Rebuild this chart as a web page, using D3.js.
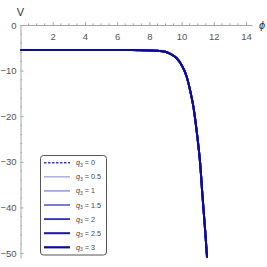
<!DOCTYPE html>
<html>
  <head>
    <meta charset="utf-8">
    <title>V vs phi</title>
    <style>
    body { margin: 0; background: #fff; }
    .axis path, .axis line { stroke: #a6a6a6; }
    .axis text { fill: #555; font-family: "Liberation Sans", Arial, sans-serif; font-size: 9.5px; }
    .lbl { fill: #333; font-family: "Liberation Sans", Arial, sans-serif; }
    .leg text { fill: #444; font-family: "Liberation Sans", Arial, sans-serif; font-size: 7.2px; }
    </style>
  </head>
  <body>
    <svg width="267" height="267"></svg>
    <script src="https://d3js.org/d3.v7.min.js"></script>
    <script>

      // curve shared by every q3 value (they all overlap)
      var phi = [0, 2, 4, 6, 7.5, 8.5, 9, 9.3, 9.7, 10.0, 10.3, 10.55, 10.73, 10.87, 10.98, 11.15, 11.3, 11.46, 11.58];
      var V   = [-5.5, -5.5, -5.5, -5.5, -5.52, -5.62, -5.85, -6.35, -7.3, -8.8, -11.2, -14.7, -17.9, -21.4, -24.6, -30.3, -37.7, -45, -51];

      var qLabels = ["0", "0.5", "1", "1.5", "2", "2.5", "3"];
      var qColors = ["#3a3ad0", "#a8a8ec", "#9a9ae4", "#6a6ad2", "#3535b8", "#1a1aa4", "#0a0a9c"];

      var xTicks = [2, 4, 6, 8, 10, 12, 14];
      var yTicks = [0, -10, -20, -30, -40, -50];

      var svg = d3.select("svg");

      var x = d3.scaleLinear().domain([0, 14.4]).range([20.5, 252.5]),
          y = d3.scaleLinear().domain([0, -50]).range([25, 253]);

      var xMinor = d3.range(0.5, 14.4, 0.5).filter(function(d) { return d % 2 !== 0; });
      var yMinor = d3.range(-2, -51.5, -2).filter(function(d) { return d % 10 !== 0; });

      // minor ticks
      svg.append("g").attr("class", "axis")
        .selectAll("line").data(xMinor).enter().append("line")
          .attr("x1", function(d) { return x(d); }).attr("x2", function(d) { return x(d); })
          .attr("y1", y(0)).attr("y2", y(0) - 1.6);
      svg.append("g").attr("class", "axis")
        .selectAll("line").data(yMinor).enter().append("line")
          .attr("y1", function(d) { return y(d); }).attr("y2", function(d) { return y(d); })
          .attr("x1", x(0)).attr("x2", x(0) + 1.6);

      svg.append("g")
          .attr("class", "axis")
          .attr("transform", "translate(0," + y(0) + ")")
          .call(d3.axisTop(x).tickValues(xTicks).tickSize(3).tickSizeOuter(0))
          .call(function(g) {
            g.selectAll("text").attr("y", 8).attr("dy", "0.71em");
            g.select(".domain").attr("d", "M" + x(0) + ",0.5H" + x(14.4));
          });

      svg.append("g")
          .attr("class", "axis")
          .attr("transform", "translate(" + x(0) + ",0)")
          .call(d3.axisRight(y).tickValues(yTicks).tickSize(3).tickSizeOuter(0)
            .tickFormat(function(d) { return d === 0 ? "0" : "\u2212" + Math.abs(d); }))
          .call(function(g) {
            g.selectAll("text").attr("x", -4).attr("text-anchor", "end");
            g.select(".domain").attr("d", "M0.5," + y(0) + "V" + y(-51.2));
          });

      svg.append("text").attr("class", "lbl")
          .attr("x", x(0)).attr("y", 16).attr("text-anchor", "middle")
          .attr("font-size", 11).text("V");
      svg.append("text").attr("class", "lbl")
          .attr("x", 262).attr("y", 29).attr("text-anchor", "middle")
          .attr("font-size", 11).attr("font-style", "italic").text("\u03d5");

      var pts = phi.map(function(p, i) { return [p, V[i]]; });
      var line = d3.line()
          .x(function(d) { return x(d[0]); })
          .y(function(d) { return y(d[1]); })
          .curve(d3.curveMonotoneX);

      qLabels.forEach(function(q, i) {
        svg.append("path")
            .datum(pts)
            .attr("fill", "none")
            .attr("stroke", qColors[i])
            .attr("stroke-width", 2)
            .attr("stroke-dasharray", i === 0 ? "3,2" : null)
            .attr("d", line);
      });

      // legend
      var leg = svg.append("g").attr("class", "leg");
      leg.append("rect")
          .attr("x", 40.5).attr("y", 155.5).attr("width", 66).attr("height", 99.5)
          .attr("rx", 3).attr("fill", "#fff").attr("stroke", "#555").attr("stroke-width", 1);
      var items = leg.selectAll(".item").data(qLabels).enter().append("g")
          .attr("transform", function(d, i) { return "translate(0," + (162.7 + i * 14.1) + ")"; });
      items.append("line")
          .attr("x1", 44).attr("x2", 70).attr("y1", 0).attr("y2", 0)
          .attr("stroke", function(d, i) { return qColors[i]; })
          .attr("stroke-width", function(d, i) { return i === 0 ? 1.5 : 1.3 + i * 0.15; })
          .attr("stroke-dasharray", function(d, i) { return i === 0 ? "2.5,1.5" : null; });
      var t = items.append("text").attr("x", 76).attr("y", 2.5);
      t.append("tspan").attr("font-style", "italic").text("q");
      t.append("tspan").attr("font-size", 5).attr("dy", 1.5).text("3");
      t.append("tspan").attr("dy", -1.5).text(function(d) { return " = " + d; });
    </script>
  </body>
</html>
